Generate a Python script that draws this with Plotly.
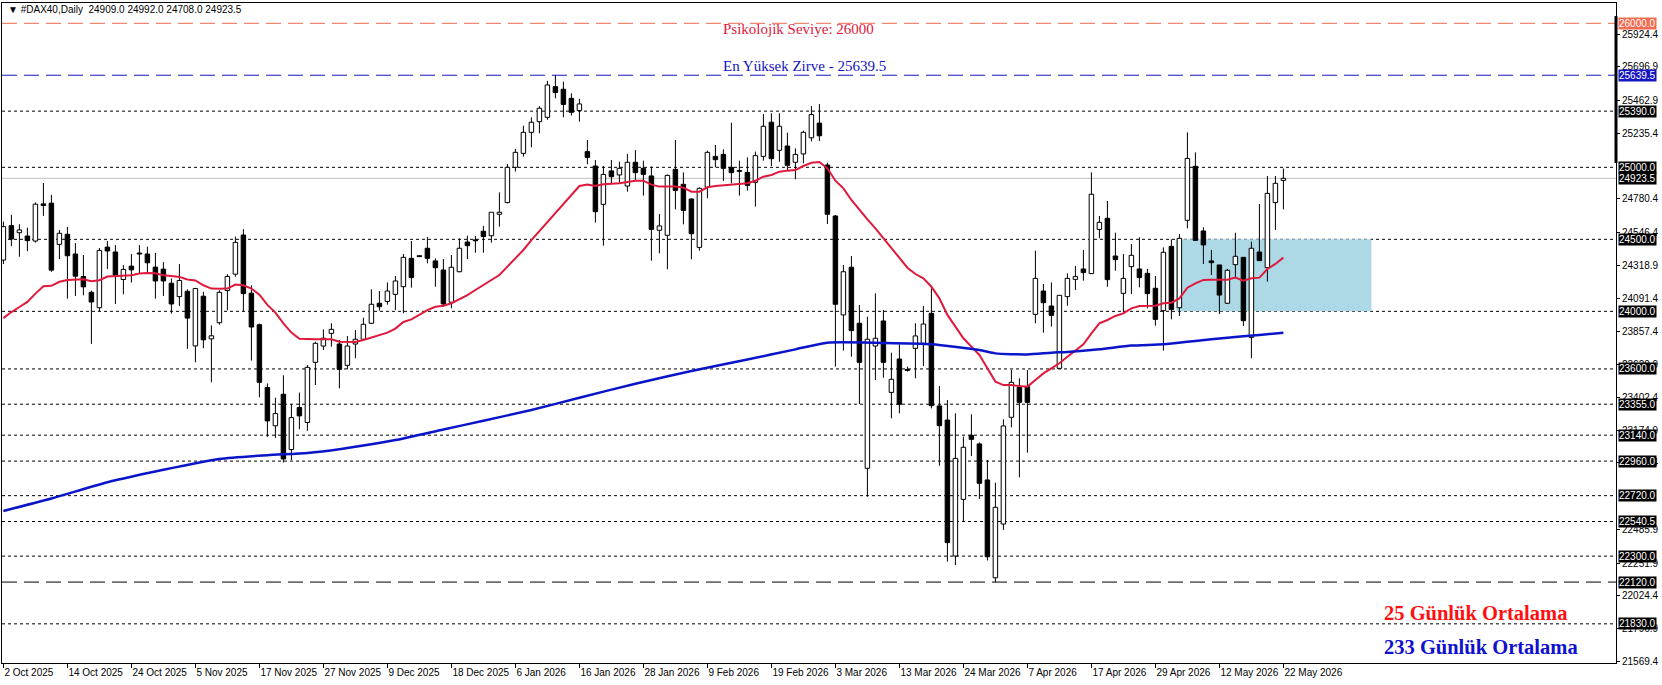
import plotly.graph_objects as go

# ---------------- data ----------------
symbol = "#DAX40,Daily"
tick_labels = ["2 Oct 2025", "14 Oct 2025", "24 Oct 2025", "5 Nov 2025", "17 Nov 2025",
               "27 Nov 2025", "9 Dec 2025", "18 Dec 2025", "6 Jan 2026", "16 Jan 2026",
               "28 Jan 2026", "9 Feb 2026", "19 Feb 2026", "3 Mar 2026", "13 Mar 2026",
               "24 Mar 2026", "7 Apr 2026", "17 Apr 2026", "29 Apr 2026", "12 May 2026",
               "22 May 2026"]
bars_per_label = 8

opens = [24356, 24595, 24546, 24523, 24488, 24746, 24751, 24465, 24535, 24398,
         24242, 24132, 24025, 24446, 24412, 24221, 24314, 24405, 24398, 24307,
         24293, 24195, 24102, 24139, 23760, 24105, 23809, 23921, 24144, 24258,
         24530, 24126, 23907, 23471, 23205, 23424, 23040, 23332, 23228, 23646,
         23759, 23847, 23773, 23625, 23773, 23806, 23917, 24056, 24069, 24118,
         24171, 24368, 24384, 24438, 24350, 24287, 24063, 24275, 24481, 24495,
         24556, 24525, 24674, 24755, 25000, 25097, 25243, 25317, 25347, 25560,
         25542, 25479, 25394, 25109, 25009, 24743, 24975, 24947, 24870, 25035,
         24993, 24940, 24563, 24528, 24986, 24882, 24780, 24444, 24861, 25076,
         25090, 25000, 24977, 24965, 24896, 25076, 25313, 25118, 25148, 25035,
         25093, 25205, 25307, 25016, 24662, 23975, 24306, 23917, 22910, 23759,
         23933, 23437, 23669, 23594, 23743, 23778, 23986, 23343, 23245, 22301,
         22694, 23139, 23079, 22829, 22150, 22523, 23264, 23472, 23477, 23979,
         24141, 24037, 23604, 24102, 24222, 24294, 24262, 24569, 24646, 24384,
         24125, 24310, 24294, 24264, 24160, 24005, 24451, 24025, 24632, 25007,
         24558, 24350, 24322, 24056, 24324, 24375, 23819, 24412, 24303, 24755,
         24909.0]
highs = [24623, 24670, 24605, 24581, 24756, 24891, 24809, 24565, 24586, 24474,
         24391, 24144, 24440, 24488, 24460, 24321, 24398, 24460, 24449, 24405,
         24342, 24228, 24328, 24153, 24163, 24135, 23902, 24146, 24258, 24519,
         24570, 24181, 23914, 23499, 23400, 23556, 23355, 23436, 23627, 23789,
         23875, 23917, 23801, 23829, 23870, 23956, 24153, 24141, 24201, 24245,
         24398, 24488, 24388, 24516, 24368, 24363, 24391, 24507, 24525, 24523,
         24593, 24688, 24826, 25023, 25127, 25289, 25347, 25425, 25600, 25639.5,
         25595, 25514, 25475, 25190, 25051, 25009, 25051, 25039, 25093, 25120,
         25046, 25005, 24676, 24950, 25190, 24965, 24785, 24860, 25116, 25155,
         25125, 25310, 25046, 25069, 25109, 25370, 25375, 25375, 25241, 25132,
         25255, 25425, 25439, 25032, 24669, 24322, 24384, 24044, 23963, 24125,
         24009, 23713, 23771, 23616, 23917, 24037, 24160, 23481, 23384, 23292,
         23130, 23285, 23090, 22968, 22810, 23250, 23593, 23535, 23593, 24421,
         24190, 24201, 24111, 24264, 24315, 24426, 24965, 24662, 24766, 24546,
         24398, 24468, 24514, 24294, 24245, 24444, 24500, 24537, 25243, 25104,
         24583, 24426, 24322, 24294, 24546, 24375, 24484, 24745, 24940, 24940,
         24992.0]
lows = [24328, 24453, 24379, 24418, 24477, 24663, 24274, 24363, 24088, 24107,
        24111, 23774, 24000, 24293, 24051, 24118, 24200, 24260, 24270, 24088,
        24107, 23984, 24037, 23739, 23646, 23744, 23507, 23907, 24007, 24240,
        24000, 23658, 23402, 23128, 23121, 22950, 22966, 23181, 23170, 23488,
        23731, 23755, 23465, 23597, 23674, 23800, 23912, 24005, 24046, 24009,
        23986, 24164, 24378, 24333, 24171, 24032, 24021, 24271, 24363, 24407,
        24407, 24477, 24588, 24750, 24970, 25074, 25139, 25236, 25330, 25479,
        25347, 25359, 25317, 25021, 24616, 24456, 24882, 24894, 24831, 24912,
        24803, 24352, 24403, 24292, 24708, 24604, 24361, 24421, 24785, 25000,
        24905, 24889, 24803, 24838, 24727, 25046, 25009, 25039, 24977, 24917,
        25028, 25180, 25183, 24606, 23616, 23727, 23685, 23356, 22713, 23523,
        23539, 23257, 23292, 23581, 23535, 23620, 23326, 22928, 22262, 22238,
        22539, 22995, 22697, 22270, 22120, 22482, 23194, 22847, 23019, 23917,
        23852, 23894, 23604, 24039, 24148, 24213, 24262, 24507, 24171, 24282,
        23993, 24120, 24167, 24021, 23900, 23727, 23944, 23968, 24576, 24488,
        24329, 24252, 23981, 24051, 24229, 23898, 23674, 24352, 24206, 24565,
        24708.0]
closes = [24588, 24502, 24565, 24491, 24744, 24735, 24286, 24542, 24386, 24244,
          24170, 24065, 24423, 24419, 24251, 24291, 24288, 24398, 24337, 24211,
          24211, 24051, 24214, 23953, 24158, 23802, 23830, 24132, 24242, 24479,
          24123, 23891, 23507, 23239, 23290, 22975, 23262, 23274, 23611, 23778,
          23813, 23875, 23597, 23759, 23806, 23910, 24049, 24032, 24141, 24211,
          24375, 24234, 24380, 24368, 24303, 24051, 24306, 24438, 24456, 24490,
          24519, 24688, 24688, 25000, 25104, 25243, 25313, 25410, 25572, 25519,
          25437, 25382, 25440, 25069, 24692, 24951, 24935, 24993, 25035, 24963,
          24951, 24569, 24593, 24944, 24840, 24701, 24539, 24854, 25104, 25053,
          24993, 24963, 24972, 24875, 25081, 25285, 25060, 25285, 25014, 25090,
          25243, 25366, 25219, 24674, 24049, 24275, 23866, 23646, 23806, 23813,
          23646, 23528, 23354, 23590, 23829, 23912, 23345, 23206, 22394, 22979,
          23056, 23111, 22806, 22296, 22639, 23204, 23507, 23368, 23368, 24229,
          24060, 23972, 24111, 24229, 24241, 24269, 24813, 24618, 24220, 24359,
          24229, 24389, 24234, 24123, 23944, 24410, 24012, 24507, 25062, 24493,
          24461, 24338, 24113, 24285, 24382, 23935, 24438, 24352, 24819, 24889,
          24923.5]

# 25-day moving average (red), one value per bar
ma25 = [23953, 23995, 24030, 24065, 24123, 24174, 24177, 24205, 24218, 24223,
        24223, 24209, 24216, 24242, 24246, 24246, 24251, 24263, 24267, 24265,
        24251, 24246, 24239, 24221, 24214, 24181, 24158, 24156, 24158, 24186,
        24181, 24158, 24116, 24045, 23991, 23917, 23852, 23810, 23806, 23806,
        23806, 23806, 23789, 23787, 23787, 23801, 23819, 23833, 23852, 23880,
        23926, 23944, 23975, 24009, 24032, 24039, 24056, 24083, 24113, 24148,
        24183, 24218, 24252, 24310, 24368, 24426, 24495, 24558, 24623, 24681,
        24750, 24812, 24870, 24880, 24870, 24882, 24884, 24889, 24898, 24907,
        24907, 24880, 24866, 24866, 24866, 24859, 24831, 24831, 24861, 24870,
        24875, 24882, 24887, 24889, 24907, 24935, 24947, 24970, 24977, 24981,
        25009, 25032, 25037, 24993, 24907, 24854, 24773, 24704, 24639, 24576,
        24507, 24437, 24368, 24303, 24259, 24229, 24171, 24090, 23975, 23894,
        23813, 23755, 23697, 23605, 23512, 23488, 23488, 23481, 23477, 23523,
        23569, 23604, 23639, 23685, 23731, 23771, 23847, 23917, 23940, 23968,
        23986, 24021, 24037, 24039, 24039, 24056, 24060, 24090, 24164, 24194,
        24218, 24220, 24220, 24220, 24234, 24213, 24229, 24234, 24294, 24329,
        24373]

# 233-day moving average (blue), values read at selected bars
ma233_bar = [0, 6, 13, 20, 27, 33, 38, 42, 49, 55, 60, 66, 72, 79, 86, 93, 99,
             103, 110, 116, 122, 124, 128, 131, 133, 137, 141, 145, 149, 153, 157, 160]
ma233_val = [22614, 22700, 22813, 22900, 22975, 23001, 23017, 23043, 23106, 23180,
             23240, 23315, 23400, 23497, 23585, 23665, 23736, 23782, 23780, 23771,
             23731, 23708, 23701, 23713, 23718, 23736, 23762, 23771, 23794, 23817,
             23836, 23852]

# horizontal levels
dotted_levels = [25390, 25000, 24500, 24000, 23600, 23355, 23140, 22960, 22720,
                 22540.5, 22300, 21830]
psych_level = 26000
ath_level = 25639.5
dashed_black_level = 22120
zone_top, zone_bottom = 24500, 24000
zone_start_bar, zone_end_bar = 146.6, 171

# price-scale labels that stay at least partly visible next to the level boxes
axis_ticks = [25924.4, 25696.9, 25462.9, 25235.4, 24780.4, 24546.4, 24318.9,
              24091.4, 23857.4, 23629.9, 23402.4, 23174.9, 22947.4, 22485.9,
              22251.9, 22024.4, 21796.9, 21569.4]

texts_top = ["Psikolojik Seviye: 26000", "En Yüksek Zirve - 25639.5"]
texts_bottom = ["25 Günlük Ortalama", "233 Günlük Ortalama"]

# ---------------- figure ----------------
n = len(closes)
idx = list(range(n))

fig = go.Figure()

# wicks (upper and lower parts, so hollow bodies stay clean)
wx, wy = [], []
for i in idx:
    top = max(opens[i], closes[i])
    bot = min(opens[i], closes[i])
    if highs[i] > top:
        wx += [i, i, None]
        wy += [highs[i], top, None]
    if lows[i] < bot:
        wx += [i, i, None]
        wy += [bot, lows[i], None]
fig.add_trace(go.Scatter(x=wx, y=wy, mode="lines", line=dict(color="black", width=1),
                         hoverinfo="skip", showlegend=False))

# bodies
body_base = [min(o, c) for o, c in zip(opens, closes)]
body_h = [max(abs(c - o), 6) for o, c in zip(opens, closes)]
body_col = ["white" if c >= o else "black" for o, c in zip(opens, closes)]
fig.add_trace(go.Bar(x=idx, y=body_h, base=body_base, width=0.56,
                     marker=dict(color=body_col, line=dict(color="black", width=1)),
                     hoverinfo="skip", showlegend=False))

# moving averages
fig.add_trace(go.Scatter(x=idx, y=ma25, mode="lines",
                         line=dict(color="#E0193C", width=2), hoverinfo="skip",
                         showlegend=False))
fig.add_trace(go.Scatter(x=ma233_bar, y=ma233_val, mode="lines",
                         line=dict(color="#0A14C8", width=2.5, shape="spline", smoothing=0.6),
                         hoverinfo="skip", showlegend=False))

shapes = []
# blue zone
shapes.append(dict(type="rect", xref="x", yref="y", x0=zone_start_bar, x1=zone_end_bar,
                   y0=zone_bottom, y1=zone_top, fillcolor="#ADD8E6",
                   line=dict(width=0), layer="below"))
for lv in dotted_levels:
    shapes.append(dict(type="line", xref="paper", yref="y", x0=0, x1=1, y0=lv, y1=lv,
                       line=dict(color="black", width=1, dash="3px,3px"), layer="below"))
shapes.append(dict(type="line", xref="paper", yref="y", x0=0, x1=1,
                   y0=dashed_black_level, y1=dashed_black_level,
                   line=dict(color="black", width=1, dash="15px,7px"), layer="below"))
shapes.append(dict(type="line", xref="paper", yref="y", x0=0, x1=1,
                   y0=psych_level, y1=psych_level,
                   line=dict(color="#F26A4F", width=1, dash="15px,7px"), layer="below"))
shapes.append(dict(type="line", xref="paper", yref="y", x0=0, x1=1,
                   y0=ath_level, y1=ath_level,
                   line=dict(color="#1515C0", width=1, dash="15px,7px"), layer="below"))
# current price line
shapes.append(dict(type="line", xref="paper", yref="y", x0=0, x1=1,
                   y0=closes[-1], y1=closes[-1],
                   line=dict(color="#C0C0C0", width=1), layer="below"))
# thick scale marker on right border
shapes.append(dict(type="line", xref="paper", yref="y", x0=1, x1=1,
                   y0=25030, y1=26050, line=dict(color="black", width=3)))

annotations = []


def price_box(v, bg):
    return dict(x=1, xref="paper", xanchor="left", xshift=2, y=v, yref="y",
                yanchor="middle", text=f"{v:.1f}", showarrow=False, bgcolor=bg,
                borderpad=0, font=dict(family="Liberation Sans", size=10, color="white"))


annotations.append(price_box(psych_level, "#F26A4F"))
annotations.append(price_box(ath_level, "#1515C0"))
for lv in dotted_levels + [dashed_black_level, closes[-1]]:
    annotations.append(price_box(lv, "black"))

# chart header
annotations.append(dict(x=0, xref="paper", xanchor="left", xshift=4, y=1, yref="paper",
                        yanchor="top", yshift=1,
                        text=f"▼ {symbol}\u00a0\u00a0{opens[-1]:.1f} {highs[-1]:.1f} "
                             f"{lows[-1]:.1f} {closes[-1]:.1f}",
                        showarrow=False,
                        font=dict(family="Liberation Sans", size=10, color="black")))

# level captions
annotations.append(dict(x=89.7, xref="x", xanchor="left", y=25960, yref="y",
                        yanchor="middle", text=texts_top[0], showarrow=False,
                        font=dict(family="Liberation Serif", size=15, color="#E0193C")))
annotations.append(dict(x=89.7, xref="x", xanchor="left", y=25704, yref="y",
                        yanchor="middle", text=texts_top[1], showarrow=False,
                        font=dict(family="Liberation Serif", size=15, color="#1515C0")))
annotations.append(dict(x=0.9709, xref="paper", xanchor="right", y=21905, yref="y",
                        yanchor="middle", text=f"<b>{texts_bottom[0]}</b>", showarrow=False,
                        font=dict(family="Liberation Serif", size=20.5, color="#FF1010")))
annotations.append(dict(x=0.9777, xref="paper", xanchor="right", y=21669, yref="y",
                        yanchor="middle", text=f"<b>{texts_bottom[1]}</b>", showarrow=False,
                        font=dict(family="Liberation Serif", size=20.5, color="#1010D0")))

fig.update_layout(
    width=1662, height=685,
    margin=dict(l=2, r=46, t=3, b=22, autoexpand=False),
    paper_bgcolor="white", plot_bgcolor="white",
    showlegend=False, barmode="overlay", hovermode=False,
    shapes=shapes, annotations=annotations,
    xaxis=dict(range=[-0.175, 201.575], showgrid=False, zeroline=False,
               tickmode="array", automargin=False, tickangle=0,
               tickvals=[k * bars_per_label for k in range(len(tick_labels))],
               ticktext=tick_labels, ticks="outside", ticklen=4, tickcolor="black",
               ticklabelposition="outside right",
               tickfont=dict(family="Liberation Sans", size=10, color="black"),
               showline=True, linecolor="black", linewidth=1, mirror=True),
    yaxis=dict(range=[21558, 26141], side="right", showgrid=False, zeroline=False,
               tickmode="array", tickvals=axis_ticks, automargin=False,
               ticktext=[f"{t:.1f}" for t in axis_ticks], ticks="outside", ticklen=3,
               tickcolor="black",
               tickfont=dict(family="Liberation Sans", size=10, color="black"),
               showline=True, linecolor="black", linewidth=1, mirror=True),
)

fig.write_html("out.html", config={"displayModeBar": False},
               post_script="document.body.style.margin='0';document.body.style.overflow='hidden';")
